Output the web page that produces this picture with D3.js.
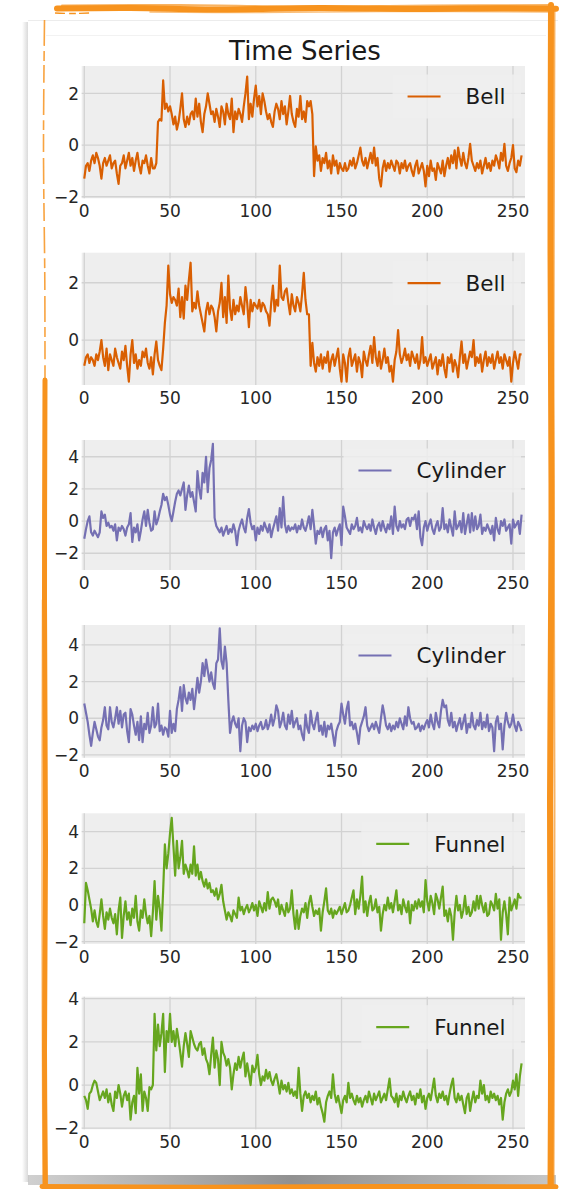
<!DOCTYPE html>
<html><head><meta charset="utf-8">
<script src="https://cdn.jsdelivr.net/npm/d3@7"></script>
<style>body{margin:0;background:#fff;} svg{display:block;font-family:"DejaVu Sans",sans-serif;}</style>
</head><body><svg id="c" width="564" height="1189"></svg>
<script>
// ---------------- data ----------------
const title = "Time Series";
const xTicks = [0, 50, 100, 150, 200, 250];
const seriesNames = ["Bell", "Bell", "Cylinder", "Cylinder", "Funnel", "Funnel"];
const seriesColors = ["#d95f02", "#d95f02", "#7570b3", "#7570b3", "#66a61e", "#66a61e"];
const yDomains = [[-2.06, 3.06], [-1.57, 3.05], [-3.04, 5.04], [-2.15, 5.08], [-2.13, 5.0], [-2.05, 4.09]];
const yTicks = [[-2, 0, 2], [0, 2], [-2, 0, 2, 4], [-2, 0, 2, 4], [-2, 0, 2, 4], [-2, 0, 2, 4]];

const bell1 = [
-1.3,-0.8,-0.7,-1.0,-0.6,-0.4,-0.7,-0.3,-0.5,-0.8,
-1.3,-0.7,-0.5,-0.8,-0.6,-0.4,-0.9,-0.7,-0.6,-1.1,
-1.5,-0.8,-0.7,-0.4,-0.9,-0.6,-0.3,-0.8,-0.5,-1.0,
-0.6,-0.3,-0.8,-1.1,-0.6,-0.7,-0.4,-0.8,-1.1,-0.5,
-0.9,-0.9,-0.7,0.9,1.0,0.95,2.5,1.4,1.6,1.3,
1.5,1.2,0.8,1.1,0.6,0.9,1.4,2.0,1.0,0.7,
1.1,0.8,1.2,1.3,1.0,1.8,1.1,1.6,0.9,0.5,
1.2,1.5,2.0,1.6,1.2,1.3,0.9,1.4,1.1,0.7,
1.5,1.3,0.8,1.6,1.2,1.0,1.8,0.5,1.3,1.0,
1.4,1.2,0.9,1.5,2.0,2.65,1.0,1.6,1.1,1.8,
2.3,1.5,1.9,1.2,2.0,1.7,1.3,1.0,1.2,0.9,
0.7,1.3,1.6,1.4,1.0,1.7,1.2,1.5,0.8,1.3,
1.9,1.2,0.9,0.7,1.4,1.1,1.9,1.0,1.3,0.9,
1.7,1.5,1.7,1.2,-1.2,-0.05,-0.6,-0.4,-1.0,-0.5,
-0.7,-0.3,-0.9,-0.6,-1.1,-0.4,-0.8,-0.6,-1.1,-0.7,
-0.9,-1.0,-0.7,-1.0,-0.9,-0.6,-0.8,-0.5,-0.9,-0.7,
-0.4,-0.1,-0.6,-0.8,-0.5,-0.9,-0.6,-0.3,-0.7,-0.1,
-0.8,-0.5,-1.3,-1.6,-0.9,-0.6,-1.0,-0.7,-0.9,-0.6,
-0.8,-1.0,-0.6,-0.7,-1.1,-0.7,-0.9,-0.6,-1.0,-0.8,
-0.7,-1.0,-1.2,-0.8,-0.6,-1.1,-0.9,-0.7,-1.0,-1.6,
-0.8,-1.2,-0.6,-1.0,-0.9,-1.35,-0.7,-0.9,-1.1,-0.6,
-1.2,-0.8,-0.5,-0.9,-0.4,-0.7,-0.2,-0.9,-0.1,-0.5,
-0.8,-0.3,-0.7,-0.9,-0.5,0.05,-0.6,-0.8,-1.0,-0.7,
-0.9,-0.6,-1.1,-0.8,-0.5,-0.9,-0.7,-1.0,-0.6,-0.8,
-0.4,-0.6,-0.9,-0.3,-0.6,0.05,-0.8,-1.0,-0.7,-0.5,
0.0,-0.9,-1.05,-0.6,-0.8,-0.4];

const bell2 = [
-0.9,-0.6,-0.5,-0.8,-0.6,-0.7,-0.9,-0.5,-0.7,-0.4,
0.0,-0.6,-0.9,-0.3,-1.05,-0.5,-0.7,-0.9,-0.3,-0.6,
-0.8,-1.0,-0.4,-0.7,-0.2,-0.9,-1.45,-0.5,0.0,-0.8,
-0.5,-1.0,-0.7,-0.9,-0.4,-0.6,-0.3,-0.8,-1.0,-0.6,
-1.2,-0.5,-0.05,-0.7,-0.9,-1.05,-0.3,0.6,1.2,2.6,
1.6,1.3,1.5,1.4,1.2,1.8,0.8,1.5,0.75,1.9,
1.4,2.1,2.7,1.0,1.3,1.1,1.7,1.2,0.9,0.6,
0.3,1.0,1.3,0.9,1.2,1.1,0.8,0.3,1.0,1.3,
2.0,0.8,1.5,0.6,2.25,1.1,0.7,1.4,0.9,1.2,
1.0,1.5,1.2,0.9,1.85,1.3,0.45,1.4,1.0,1.3,
1.2,1.1,1.4,1.0,1.3,1.2,1.0,0.9,0.5,1.3,
1.9,1.0,1.4,1.2,2.6,1.5,1.4,1.7,1.8,1.3,
0.9,1.6,1.2,1.0,1.5,1.3,1.0,1.6,2.35,1.4,
0.9,0.9,-0.9,-0.1,-0.8,-1.1,-0.6,-0.9,-0.5,-1.0,
-0.6,-0.8,-0.4,-1.1,-0.7,-0.5,-0.9,-0.6,-0.3,-1.0,
-1.45,-0.5,-0.8,-1.45,-0.6,-0.3,-0.9,-0.7,-0.5,-1.1,
-0.6,-0.8,-1.3,-0.4,-0.7,-0.9,-0.5,-0.2,-0.8,0.1,
-0.6,-0.9,-0.4,-1.0,-0.7,-0.3,-0.8,-0.6,-1.1,-0.9,
-1.45,-0.7,-0.4,0.35,-0.5,-0.8,-0.6,-0.3,-0.7,-0.5,
-0.9,-0.4,-0.6,-0.8,-0.5,-1.0,-0.7,0.1,-0.8,-0.6,
-0.9,-0.7,-0.5,-1.0,-0.8,-0.6,-1.2,-0.7,-0.9,-0.5,
-1.0,-1.3,-0.6,-0.8,-0.5,-1.1,-0.7,-0.9,-1.3,-0.6,
-0.05,-0.8,-0.5,-1.0,-0.7,-0.4,-0.6,0.0,-0.9,-0.6,
-0.8,-0.5,-1.1,-0.7,-0.4,-0.9,-0.6,-0.8,-0.5,-1.0,
-0.7,-0.4,-0.8,-0.6,-1.0,-0.5,-0.7,-0.9,-0.6,-1.45,
-0.8,-0.4,-0.7,-1.0,-0.5,-0.5];

const cylinder1 = [
-1.1,-0.5,0.0,0.3,-0.7,-0.9,-0.6,-0.8,-1.0,-0.7,
0.6,0.2,0.4,-0.3,-0.1,-0.4,-0.3,-0.6,-0.2,-1.2,
-0.4,-0.6,-0.3,-0.5,-0.9,-0.4,-0.2,0.5,-1.3,-0.4,
-0.7,-0.2,-1.2,-0.6,0.1,0.6,-0.3,0.7,-0.1,-0.6,
-0.5,0.6,-0.2,0.1,0.6,1.0,1.7,1.3,1.5,1.0,
0.4,0.0,0.6,1.2,1.7,1.9,1.6,2.0,2.4,0.7,
1.6,2.2,1.5,1.8,1.2,0.6,3.1,2.0,1.4,3.0,
2.4,4.0,1.8,3.3,3.8,4.8,0.2,-0.3,-0.5,-0.7,
-0.4,-0.9,-0.6,-0.3,-0.8,-0.5,-0.7,-0.2,-0.6,-1.5,
-0.6,-0.2,0.1,-0.4,-0.7,0.2,0.75,-0.1,-0.5,-0.3,
-1.2,-0.4,-0.8,-0.3,-0.6,-0.1,-0.4,-0.7,-0.2,-1.0,
-0.5,-0.1,0.3,-0.6,0.8,-0.4,1.5,-0.2,-0.7,-0.3,
-0.6,-0.4,-0.5,-0.2,-0.7,-0.3,-0.5,0.1,-0.4,-0.6,
-0.2,0.3,-0.5,0.7,-0.3,-1.4,-0.6,-0.8,-0.4,-1.0,
-0.5,-0.3,-1.2,-0.6,-2.3,-0.7,-0.4,-0.9,-0.5,-0.2,
-1.5,0.9,0.3,-0.4,-0.6,-0.8,-0.2,-0.5,-0.3,0.2,
-0.6,-0.4,-0.7,0.0,-0.3,-0.5,-0.2,-0.6,0.1,-0.4,
-0.8,-0.3,-0.1,-0.6,0.0,-0.4,-0.7,-0.2,-0.5,0.3,
-0.8,0.9,-0.3,-0.6,0.0,-0.4,-0.2,-0.5,0.1,0.2,
-0.3,0.2,0.1,0.4,-0.5,0.6,-1.0,-1.5,-0.4,0.0,
-0.6,-0.2,0.1,-0.5,-0.8,-0.3,0.0,-0.6,-0.4,0.8,
-0.5,-0.2,-0.7,0.1,-0.4,-0.9,0.6,-0.5,-0.3,0.0,
-0.7,0.5,-0.8,-0.2,0.4,-0.7,0.5,-0.6,0.3,-0.5,
-0.3,0.4,-0.8,-0.4,-0.6,-0.2,-0.5,-0.8,-0.3,-1.2,
0.2,-0.5,-0.8,0.0,-0.3,0.1,-0.6,-0.4,-0.2,-1.4,
0.1,-0.4,-0.2,0.0,-0.8,0.4];

const cylinder2 = [
0.8,0.3,-0.2,-0.9,-1.5,-0.8,-0.2,-0.6,-1.0,-1.2,
-0.5,-0.1,0.6,-0.4,-0.6,0.6,-0.2,-0.5,0.0,0.6,
-0.3,0.4,-0.5,0.2,0.3,-0.7,-1.3,0.5,0.2,-0.4,
-0.9,-0.2,-1.2,0.1,-1.3,-0.3,-0.6,0.3,-0.8,-0.4,
0.6,-0.5,-0.3,0.8,-0.7,-0.4,-0.9,-0.5,-0.6,-1.0,
0.4,-0.8,-0.3,-0.7,0.5,1.0,1.7,0.4,1.8,1.1,
0.8,1.4,1.0,1.6,0.5,1.3,2.2,1.4,2.0,3.0,
2.3,3.2,2.6,2.0,2.5,1.9,1.6,3.0,3.2,4.9,
3.1,2.7,3.9,3.0,1.0,-0.8,-0.2,0.1,-0.3,-0.5,
0.0,-1.8,-0.4,0.0,-0.2,-1.3,-0.5,-0.7,-0.4,-0.6,
-0.3,-0.7,-0.4,-0.2,-0.6,-0.5,-0.1,-0.6,-0.3,0.2,
-0.4,0.0,0.7,0.4,-0.5,-0.2,0.3,-0.4,-0.6,0.2,
-0.3,0.4,-0.5,-0.2,0.0,-0.6,-0.4,-0.9,-1.2,0.2,
-0.5,-0.8,0.4,-0.3,-0.6,-0.1,0.3,-0.7,-0.4,-0.9,
-0.2,-1.0,-0.4,-0.6,-0.3,-0.9,-1.5,-0.7,-0.4,-0.2,
0.8,0.2,-0.3,0.5,0.9,-0.4,-0.2,-0.6,-0.3,-0.8,
-1.4,-0.5,-0.2,0.1,0.6,-0.4,-0.7,-0.5,-0.3,-0.6,
-0.2,-0.5,-0.8,0.0,0.7,0.2,-0.4,-0.6,-0.3,-0.7,
-0.4,-0.6,-0.2,-0.5,0.0,-0.3,-0.6,0.1,-0.4,0.6,
0.0,-0.3,-0.2,-0.6,-0.5,-0.3,-0.7,-0.4,-0.6,-0.3,
-0.1,-0.5,0.2,-0.3,-0.6,0.3,-0.2,-0.5,0.4,1.0,
0.6,0.7,-0.1,-0.4,0.3,-0.5,-0.2,-0.7,-0.3,0.0,
-0.6,-0.2,0.2,-0.8,-0.3,-0.5,0.3,-0.4,-0.6,-0.1,
-0.4,0.3,-0.6,-0.2,-0.5,0.2,-0.7,-0.3,-0.5,-1.8,
-0.2,0.1,-0.6,-0.3,-1.7,-0.4,0.3,-0.2,-0.5,-0.3,
0.2,-0.4,-0.7,-0.2,-0.4,-0.7];

const funnel1 = [
-1.0,1.2,0.8,0.3,-0.2,-0.9,-0.3,-0.9,-1.2,-0.5,
0.3,-0.6,-1.3,-0.4,-0.8,-0.2,-0.7,-1.0,-0.5,-1.6,
-0.3,0.4,-1.8,-0.6,0.2,-0.8,-0.4,-1.1,-0.2,-0.7,
0.5,-0.9,-1.4,-0.3,-0.7,0.3,-0.5,-1.0,-0.6,-1.7,
-0.4,1.3,-0.8,0.5,-0.2,-1.4,0.8,3.3,2.0,2.8,
3.9,4.75,3.2,1.6,3.5,2.0,2.6,3.5,1.7,2.2,
1.9,1.5,2.2,1.7,3.2,1.6,2.2,1.4,1.8,1.3,
1.0,1.4,0.9,1.2,0.7,0.8,0.5,0.9,0.3,0.6,
1.1,0.2,-0.3,-0.8,-0.4,-0.6,-0.9,-0.3,-0.5,-0.7,
0.4,-0.3,-0.1,-0.5,-0.2,0.0,-0.4,-0.2,0.1,-0.3,
0.0,-0.6,0.2,-0.1,-0.4,0.1,-0.3,0.7,-0.2,0.3,
0.4,0.2,-0.1,0.3,-0.5,0.0,-0.3,-0.6,0.1,-0.4,
-0.2,0.8,-0.5,-1.3,-0.3,-1.3,-0.6,-0.2,-0.4,0.1,
-0.7,0.1,0.5,-0.1,-0.6,-0.3,-0.5,-0.2,-1.4,-0.4,
0.2,0.9,-0.3,-0.5,-0.2,-0.7,-0.3,-0.5,-0.3,-0.1,
-0.5,-0.2,0.1,-0.4,-0.3,0.0,0.4,0.8,-0.5,0.3,
-0.2,0.5,1.55,-0.4,0.2,-0.6,0.1,0.5,-0.3,-0.2,
0.3,-0.4,-0.1,-1.4,-0.5,0.0,-0.3,0.4,-0.2,0.1,
-0.4,0.2,0.8,-0.3,0.0,-0.5,0.3,-0.1,-0.4,0.2,
-1.0,0.0,-0.3,0.2,-0.2,0.3,-0.1,0.2,-0.4,1.35,
0.2,-0.3,0.5,0.1,-0.5,0.6,0.3,-0.2,0.4,1.0,
-0.6,-0.3,-0.9,-0.2,-0.6,-1.9,-0.4,0.5,-0.3,0.0,
-0.7,-0.3,0.5,-0.5,-0.1,-0.6,-0.4,0.2,-0.3,0.5,
-0.2,0.5,0.0,-0.4,0.1,-0.6,-0.5,0.2,0.0,-0.3,
0.6,-0.2,0.3,-1.9,-0.4,0.2,-0.5,-1.6,0.4,-0.3,
0.0,0.3,-0.2,0.6,0.4,0.4];

const funnel2 = [
-0.5,-0.7,-1.1,-0.4,-0.3,0.0,0.2,0.1,-0.3,-0.7,
-0.5,-0.3,-0.6,-0.2,-0.8,-0.4,-0.9,-1.2,-0.3,-0.6,
0.0,-0.4,-1.0,-0.5,-0.3,-0.7,-0.4,-1.6,-0.8,-0.5,
-1.3,0.8,-0.4,0.5,-1.2,-0.3,-0.6,-1.2,-0.1,-0.2,
0.0,3.3,1.6,2.8,1.8,2.4,3.3,0.6,2.5,2.0,
3.3,2.0,2.5,1.8,2.6,2.1,1.5,0.85,1.8,2.4,
1.9,1.3,2.5,2.2,1.9,1.7,1.6,1.9,2.0,1.4,
1.7,1.2,1.0,0.5,1.4,2.2,0.8,1.6,1.2,0.0,
2.0,1.5,1.3,0.9,1.2,0.8,-0.2,0.5,1.0,0.7,
1.3,0.8,1.2,1.5,0.4,1.0,0.5,0.0,0.9,0.6,
0.8,1.4,0.5,0.0,0.4,0.2,0.7,0.3,0.6,0.2,
0.0,0.3,0.5,0.1,-0.4,0.2,-0.2,0.0,-0.3,0.1,
-0.4,-0.2,-0.5,-0.3,-0.6,0.8,-0.4,-1.2,-0.5,-0.3,
-0.6,-0.4,-0.8,-0.5,-0.7,-0.3,-0.9,-0.6,-1.0,-1.3,
-1.7,-0.8,-0.5,-0.3,-0.6,0.5,-0.4,-0.8,-0.5,-0.9,
-1.3,-0.7,-0.5,-0.8,0.1,-0.6,-0.4,-0.7,-0.9,-0.5,
-0.8,-0.6,-1.0,-0.7,-0.5,-0.8,-0.3,-0.6,-0.9,-0.4,
-0.7,-0.5,-0.3,-0.8,-0.6,-0.4,-0.7,-0.2,0.3,-0.5,
-0.6,-0.8,-0.4,-1.0,-0.5,-0.7,-0.3,-0.6,-0.8,-0.5,
-0.3,-0.7,-0.5,-0.9,-0.4,-0.6,-0.2,-0.8,-0.5,-1.1,
-0.6,-0.4,-0.7,-0.2,0.3,-0.5,-0.8,-0.4,-0.6,-0.3,
-0.7,-0.5,-0.9,-0.4,0.0,0.3,-0.6,-0.8,-0.4,-0.7,
-0.5,-0.9,-1.3,-0.6,-0.4,-1.2,-0.7,-0.3,-0.8,-0.5,
-0.6,0.2,-0.4,0.0,-0.7,-0.5,-0.8,-0.3,-0.6,-0.4,
-0.7,-0.5,-0.9,-0.6,-1.6,-0.8,-0.4,-0.2,-0.5,-0.3,
0.2,-0.2,0.5,-0.5,0.4,1.0];

const allSeries = [bell1, bell2, cylinder1, cylinder2, funnel1, funnel2];

// ---------------- layout ----------------
const panelTops = [66, 252.7, 440, 625, 813.3, 996.7];
const panelHeights = [132.3, 132.3, 130, 132.7, 130.7, 132.6];
const panelLeft = 81.7, panelRight = 525;
const svg = d3.select("#c");
const defs = svg.append("defs");

// card + shadows
const gB = defs.append("linearGradient").attr("id", "shB").attr("x1", 0).attr("x2", 1).attr("y1", 0).attr("y2", 0);
gB.append("stop").attr("offset", 0).attr("stop-color", "#c8c8c8");
gB.append("stop").attr("offset", 0.5).attr("stop-color", "#7d7d7d");
gB.append("stop").attr("offset", 1).attr("stop-color", "#bdbdbd");
const gL = defs.append("linearGradient").attr("id", "shL").attr("x1", 0).attr("x2", 1);
gL.append("stop").attr("offset", 0).attr("stop-color", "#ffffff");
gL.append("stop").attr("offset", 1).attr("stop-color", "#d4d4d4");
svg.append("rect").attr("x", 22).attr("y", 22).attr("width", 7).attr("height", 1160).attr("fill", "url(#shL)");
svg.append("rect").attr("x", 28).attr("y", 1174).attr("width", 528).attr("height", 11).attr("fill", "url(#shB)").attr("opacity", 0.85);
svg.append("rect").attr("x", 28).attr("y", 20).attr("width", 530).attr("height", 1155).attr("fill", "#fff");
svg.append("line").attr("x1", 28).attr("x2", 558).attr("y1", 20.5).attr("y2", 20.5).attr("stroke", "#ececec");
svg.append("line").attr("x1", 46).attr("x2", 546).attr("y1", 35.5).attr("y2", 35.5).attr("stroke", "#f2f2f2");

// title
svg.append("text").attr("x", 305).attr("y", 60).attr("text-anchor", "middle")
  .attr("font-size", 26).attr("fill", "#1a1a1a").text(title);

const x = d3.scaleLinear().domain([-1.5, 257]).range([panelLeft, panelRight]);
const fmt = v => (v < 0 ? "\u2212" + Math.abs(v) : "" + v);

allSeries.forEach((data, i) => {
  const top = panelTops[i], bottom = top + panelHeights[i];
  const y = d3.scaleLinear().domain(yDomains[i]).range([bottom, top]);
  const g = svg.append("g");
  const cid = "clip" + i;
  defs.append("clipPath").attr("id", cid).append("rect")
    .attr("x", panelLeft).attr("y", top).attr("width", panelRight - panelLeft).attr("height", bottom - top);
  g.append("rect").attr("x", panelLeft).attr("y", top).attr("width", panelRight - panelLeft)
    .attr("height", bottom - top).attr("fill", "#eeeeee");
  // grid
  g.selectAll(".gx").data(xTicks).join("line")
    .attr("x1", d => x(d)).attr("x2", d => x(d)).attr("y1", top).attr("y2", bottom)
    .attr("stroke", "#d2d2d2").attr("stroke-width", 1.3);
  g.selectAll(".gy").data(yTicks[i]).join("line")
    .attr("x1", panelLeft).attr("x2", panelRight).attr("y1", d => y(d)).attr("y2", d => y(d))
    .attr("stroke", "#d2d2d2").attr("stroke-width", 1.3);
  // tick labels
  g.selectAll(".tx").data(xTicks).join("text")
    .attr("x", d => x(d)).attr("y", bottom + 19).attr("text-anchor", "middle")
    .attr("font-size", 17).attr("fill", "#262626").text(d => d);
  g.selectAll(".ty").data(yTicks[i]).join("text")
    .attr("x", 79).attr("y", d => y(d)).attr("dy", "0.36em").attr("text-anchor", "end")
    .attr("font-size", 17).attr("fill", "#262626").text(d => fmt(d));
  // series line
  const line = d3.line().x((d, k) => x(k)).y(d => y(d));
  g.append("path").datum(data).attr("d", line).attr("fill", "none")
    .attr("stroke", seriesColors[i]).attr("stroke-width", 2.2).attr("stroke-linejoin", "round")
    .attr("clip-path", `url(#${cid})`);
  // legend
  const ly = top + 30.5;
  const lg = g.append("g");
  const box = lg.append("rect");
  const txt = lg.append("text").attr("x", 505.5).attr("y", ly).attr("dy", "0.36em")
    .attr("text-anchor", "end").attr("font-size", 21.5).attr("fill", "#1a1a1a").text(seriesNames[i]);
  const tw = txt.node().getComputedTextLength();
  const lineEnd = 505.5 - tw - 25, lineStart = lineEnd - 33;
  lg.append("line").attr("x1", lineStart).attr("x2", lineEnd).attr("y1", ly).attr("y2", ly)
    .attr("stroke", seriesColors[i]).attr("stroke-width", 2.2);
  box.attr("x", lineStart - 15).attr("y", ly - 22).attr("width", 521 - (lineStart - 15)).attr("height", 44)
    .attr("fill", "#eeeeee").attr("opacity", 0.85);
});

// orange brush frame (decoration)
const orange = "#f7931e";
const bl = d3.line().curve(d3.curveCatmullRom);
const strokes = [
  {p: [[57,8.5],[130,8],[220,9.5],[320,8],[420,9],[500,8.2],[556,8.8]], w: 6, o: 1},
  {p: [[62,5.5],[180,5],[300,6.5],[430,5.5],[553,5]], w: 2, o: 0.7},
  {p: [[150,12],[260,12.5],[380,11.5],[552,12]], w: 1.5, o: 0.6},
  {p: [[551,5],[550.5,250],[551.5,520],[550,800],[551,1060],[550.5,1189]], w: 6, o: 1},
  {p: [[554.5,10],[553.5,400],[554.5,800],[553.5,1189]], w: 2, o: 0.7},
  {p: [[45,380],[44.5,600],[45.5,850],[44.5,1050],[45.5,1189]], w: 5, o: 1},
  {p: [[42.5,600],[42,900],[43,1189]], w: 1.5, o: 0.6},
  {p: [[42,1186.5],[200,1187.2],[380,1186.4],[556,1186.8]], w: 5, o: 1}
];
strokes.forEach(s => svg.append("path").attr("d", bl(s.p)).attr("fill", "none")
  .attr("stroke", orange).attr("stroke-width", s.w).attr("stroke-opacity", s.o).attr("stroke-linecap", "round"));
// thin dashed upper-left edge
svg.append("path").attr("d", bl([[44.5,20],[43.5,150],[44.8,280],[45,400]])).attr("fill", "none")
  .attr("stroke", orange).attr("stroke-width", 1.6).attr("stroke-dasharray", "26 5 10 4 18 6")
  .attr("stroke-opacity", 0.85);
svg.append("path").attr("d", bl([[55,13],[72,13.5],[90,13]])).attr("fill", "none")
  .attr("stroke", orange).attr("stroke-width", 1.4).attr("stroke-dasharray", "10 4 7 3");
</script></body></html>
